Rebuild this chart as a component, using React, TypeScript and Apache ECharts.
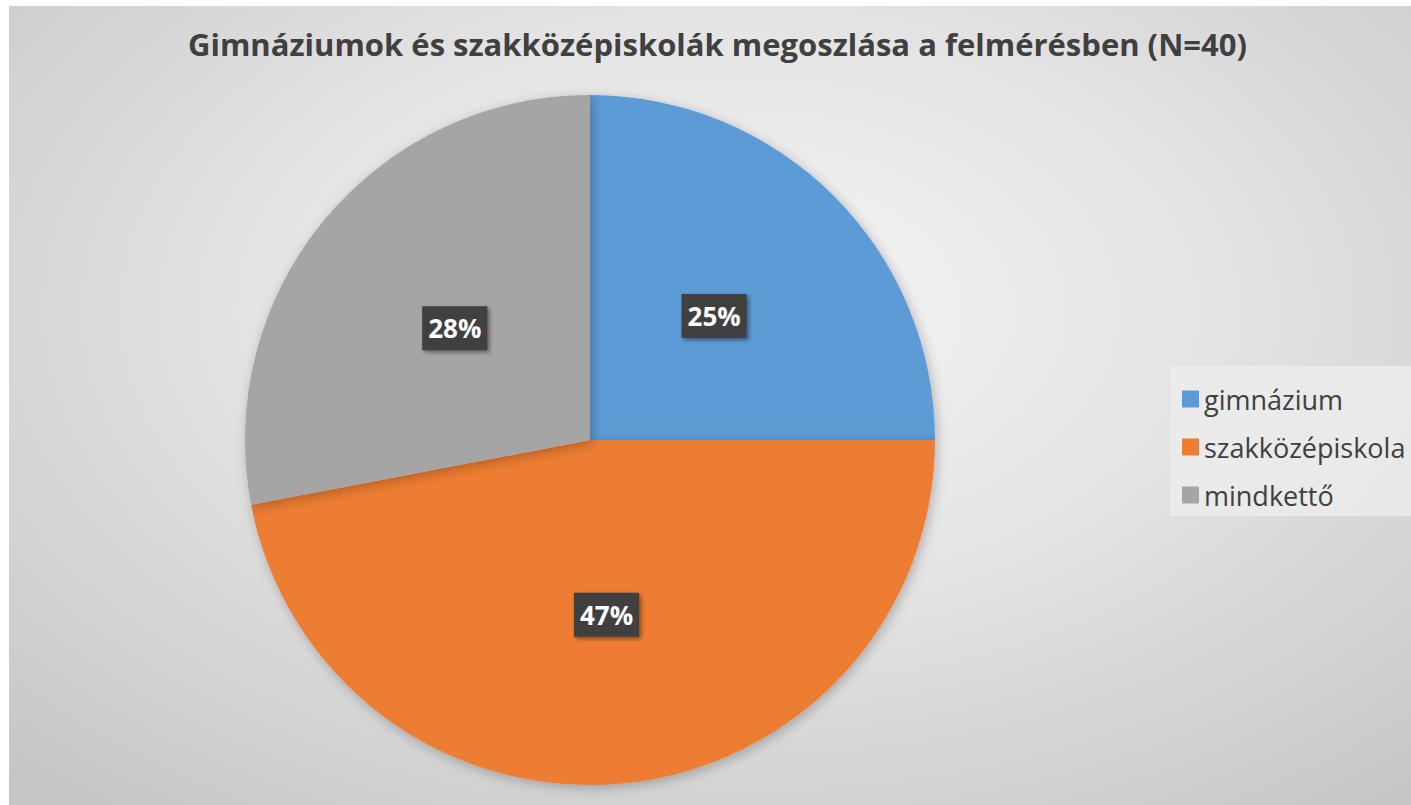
import React, { useEffect, useRef } from "react";
import * as echarts from "echarts";

const titleText = "Gimnáziumok és szakközépiskolák megoszlása a felmérésben (N=40)";
const categories = ["gimnázium", "szakközépiskola", "mindkettő"];
const values = [25, 47, 28];
const colors = ["#5B9BD5", "#ED7D31", "#A5A5A5"];

export default function App() {
  const ref = useRef<HTMLDivElement>(null);
  useEffect(() => {
    if (!ref.current) return;
    const chart = echarts.init(ref.current, null, { renderer: "svg" });
    chart.setOption({
      animation: false,
      title: {
        text: titleText,
        left: 174,
        top: 16,
        textStyle: {
          fontFamily: "Open Sans",
          fontSize: 31,
          fontWeight: "bold",
          color: "#404040",
          lineHeight: 34,
        },
      },
      legend: {
        orient: "vertical",
        left: 1161,
        top: 360,
        padding: [18, 12, 6, 12],
        backgroundColor: "rgba(236,236,236,0.85)",
        itemWidth: 17,
        itemHeight: 17,
        itemGap: 18,
        icon: "rect",
        data: categories,
        textStyle: {
          fontFamily: "Open Sans",
          fontSize: 27,
          color: "#404040",
          lineHeight: 30,
        },
      },
      series: [
        {
          type: "pie",
          center: [581, 434],
          radius: 345,
          startAngle: 90,
          clockwise: true,
          data: categories.map((name, i) => ({
            name,
            value: values[i],
            itemStyle: { color: colors[i] },
          })),
          itemStyle: {
            borderWidth: 0,
            shadowBlur: 12,
            shadowOffsetX: 2,
            shadowOffsetY: 3,
            shadowColor: "rgba(0,0,0,0.25)",
          },
          label: {
            show: true,
            position: "inside",
            formatter: "{c}%",
            fontFamily: "Open Sans",
            fontSize: 26,
            fontWeight: "bold",
            color: "#ffffff",
            backgroundColor: "#404040",
            padding: [6, 6],
            lineHeight: 32,
            shadowBlur: 4,
            shadowOffsetX: 2,
            shadowOffsetY: 2,
            shadowColor: "rgba(0,0,0,0.45)",
          },
          labelLine: { show: false },
          emphasis: { disabled: true },
        },
      ],
    });
    return () => chart.dispose();
  }, []);
  return (
    <div
      ref={ref}
      style={{
        position: "absolute",
        left: 9,
        top: 6,
        width: 1402,
        height: 799,
        background:
          "radial-gradient(ellipse 75% 80% at 52% 38%, #f6f6f6 0%, #e4e4e4 45%, #c6c6c6 100%)",
      }}
    />
  );
}
